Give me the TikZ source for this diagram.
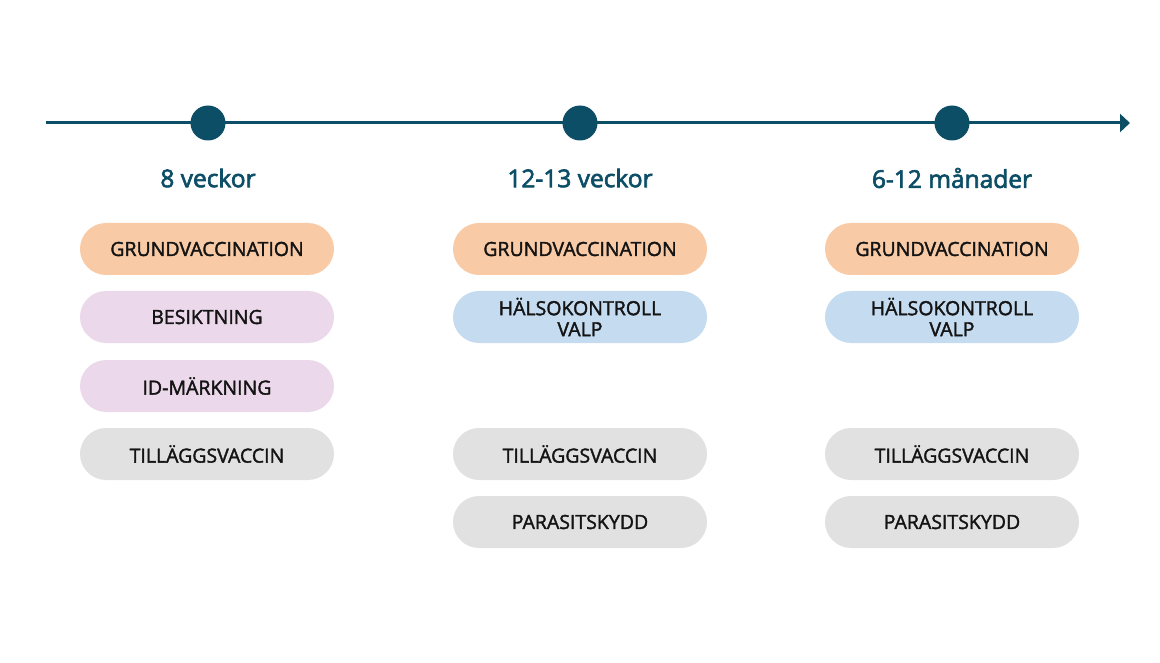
\documentclass[tikz,border=0pt]{standalone}
\usepackage{fontspec}
\setmainfont{Open Sans}
\newfontfamily\headfont[FakeBold=2.6]{Open Sans}
\newfontfamily\pillfont[FakeBold=1.8]{Open Sans}
\usetikzlibrary{arrows.meta}
\definecolor{teal}{HTML}{0D4E67}
\definecolor{corange}{HTML}{F8CAA6}
\definecolor{cpink}{HTML}{EBD8EA}
\definecolor{cblue}{HTML}{C5DBF0}
\definecolor{cgray}{HTML}{E1E1E1}
\definecolor{ctext}{HTML}{141414}
\tikzset{
  pill/.style={rounded corners=26pt, minimum width=254pt, minimum height=52pt, inner sep=0pt,
    text=ctext, font=\pillfont\fontsize{19.5}{21}\selectfont, align=center},
  dot/.style={circle, fill=teal, minimum size=35pt, inner sep=0pt},
  head/.style={text=teal, font=\headfont\fontsize{24.5}{27}\selectfont},
}
\begin{document}
\begin{tikzpicture}[x=1pt,y=-1pt]
\useasboundingbox (0,0) rectangle (1160,663);
\coordinate (ls) at (46,123);
\coordinate (le) at (1130,123);
\draw[teal, line width=3pt, -{Triangle[length=10pt,width=18pt]}] (ls) -- (le);
\node[dot] (d1) at (208,123) {};
\node[dot] (d2) at (580,123) {};
\node[dot] (d3) at (952,123) {};
\node[head] (h1) at (208,178) {8 veckor};
\node[head] (h2) at (580,178) {12-13 veckor};
\node[head] (h3) at (952,178) {6-12 månader};
% column 1
\node[pill, fill=corange] (a1) at (207,249) {GRUNDVACCINATION};
\node[pill, fill=cpink] (a2) at (207,317) {BESIKTNING};
\node[pill, fill=cpink] (a3) at (207,386) {ID-MÄRKNING};
\node[pill, fill=cgray] (a4) at (207,454) {TILLÄGGSVACCIN};
% column 2
\node[pill, fill=corange] (b1) at (580,249) {GRUNDVACCINATION};
\node[pill, fill=cblue] (b2) at (580,317) {HÄLSOKONTROLL\\VALP};
\node[pill, fill=cgray] (b4) at (580,454) {TILLÄGGSVACCIN};
\node[pill, fill=cgray] (b5) at (580,522) {PARASITSKYDD};
% column 3
\node[pill, fill=corange] (c1) at (952,249) {GRUNDVACCINATION};
\node[pill, fill=cblue] (c2) at (952,317) {HÄLSOKONTROLL\\VALP};
\node[pill, fill=cgray] (c4) at (952,454) {TILLÄGGSVACCIN};
\node[pill, fill=cgray] (c5) at (952,522) {PARASITSKYDD};
\end{tikzpicture}
\end{document}
